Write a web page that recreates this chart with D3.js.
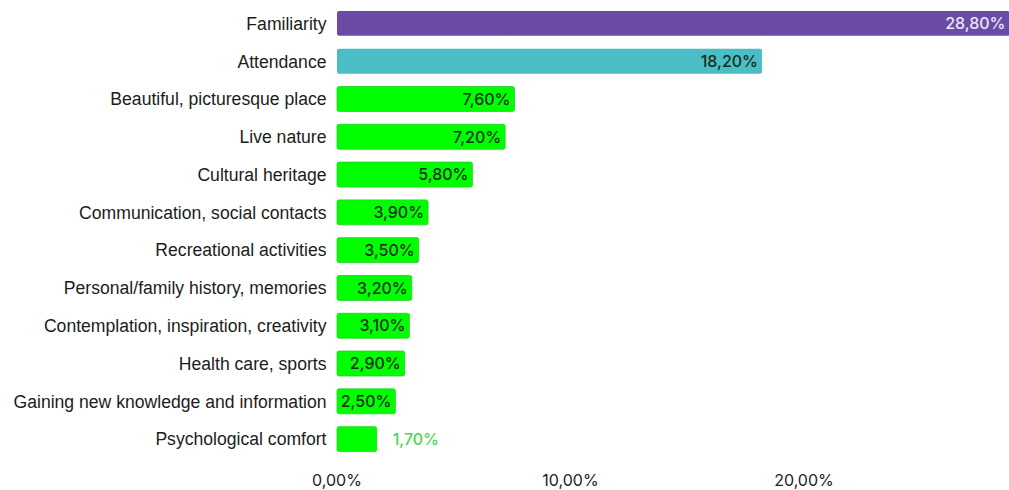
<!DOCTYPE html>
<html>
<head>
<meta charset="utf-8">
<script src="https://cdn.jsdelivr.net/npm/d3@7"></script>
<style>
  html, body { margin: 0; padding: 0; background: #fff; }
  svg { display: block; }
</style>
</head>
<body>
<svg id="chart" width="1009" height="490"></svg>
<script>
// Reasons for visiting, share of respondents (%)
const categories = [
  "Familiarity",
  "Attendance",
  "Beautiful, picturesque place",
  "Live nature",
  "Cultural heritage",
  "Communication, social contacts",
  "Recreational activities",
  "Personal/family history, memories",
  "Contemplation, inspiration, creativity",
  "Health care, sports",
  "Gaining new knowledge and information",
  "Psychological comfort"
];
const values = [28.8, 18.2, 7.6, 7.2, 5.8, 3.9, 3.5, 3.2, 3.1, 2.9, 2.5, 1.7];
const xTicks = [0, 10, 20];

const barFill = ["#6a4ba6", "#4bbdc6"];
const defaultFill = "#00ff00";

const svg = d3.select("#chart");
const fmt = v => v.toFixed(2).replace(".", ",") + "%";

const x = d3.scaleLinear().domain([0, 10]).range([337, 570.5]);
const y = d3.scaleBand().domain(categories).range([4.5, 458]).paddingInner(0.34).paddingOuter(0.17);

// category labels
svg.append("g")
  .selectAll("text")
  .data(categories)
  .join("text")
  .attr("x", 326.5)
  .attr("y", d => y(d) + y.bandwidth() / 2)
  .attr("dy", "0.36em")
  .attr("text-anchor", "end")
  .attr("font-family", "Liberation Sans, Arial, sans-serif")
  .attr("font-size", 17.6)
  .attr("fill", "#1c1c1c")
  .text(d => d);

// bars
svg.append("g")
  .selectAll("rect")
  .data(values)
  .join("rect")
  .attr("x", x(0))
  .attr("y", (d, i) => y(categories[i]))
  .attr("width", d => x(d) - x(0))
  .attr("height", y.bandwidth())
  .attr("rx", 2)
  .attr("fill", (d, i) => barFill[i] || defaultFill)
  .attr("stroke", (d, i) => i < 2 ? "none" : "#1fd11f")
  .attr("stroke-width", 0.8);

// value labels
svg.append("g")
  .selectAll("text")
  .data(values)
  .join("text")
  .attr("x", d => d < 2 ? x(d) + 16 : x(d) - 4)
  .attr("y", (d, i) => y(categories[i]) + y.bandwidth() / 2)
  .attr("dy", "0.36em")
  .attr("text-anchor", d => d < 2 ? "start" : "end")
  .attr("font-family", "Inter, Liberation Sans, sans-serif")
  .attr("font-size", 16)
  .attr("font-weight", 500)
  .attr("fill", (d, i) => i === 0 ? "#ece6f5" : (d < 2 ? "#4fd44f" : "#143014"))
  .text(fmt);

// x axis tick labels
svg.append("g")
  .selectAll("text")
  .data(xTicks)
  .join("text")
  .attr("x", d => x(d))
  .attr("y", 480)
  .attr("dy", "0.36em")
  .attr("text-anchor", "middle")
  .attr("font-family", "Inter, Liberation Sans, sans-serif")
  .attr("font-size", 16)
  .attr("fill", "#222")
  .text(fmt);
</script>
</body>
</html>
